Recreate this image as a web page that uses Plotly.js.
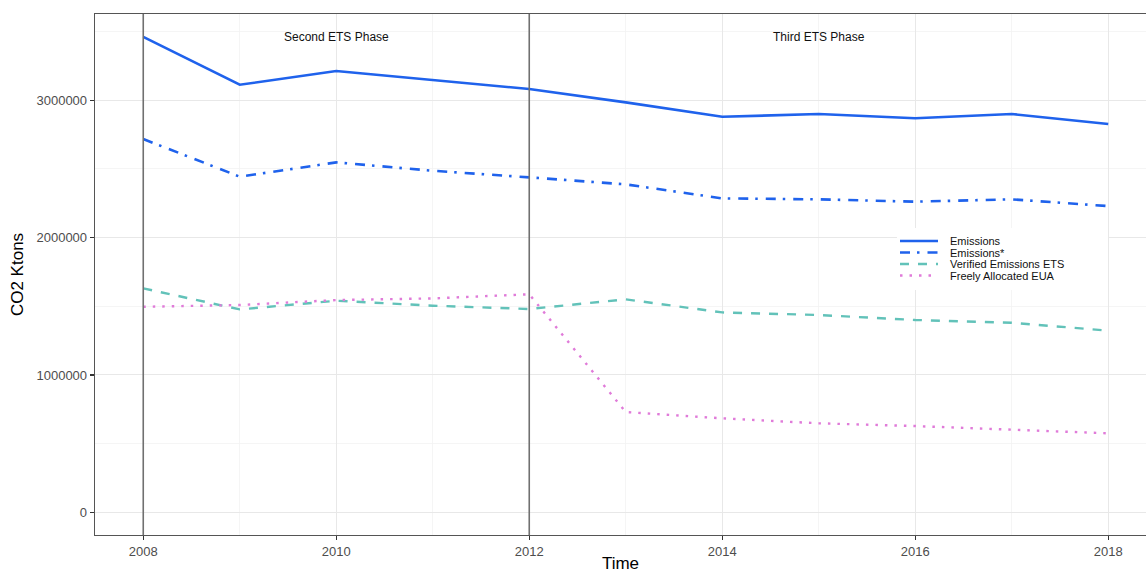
<!DOCTYPE html>
<html>
<head>
<meta charset="utf-8">
<script src="https://cdn.plot.ly/plotly-3.0.1.min.js"></script>
<style>html,body{margin:0;padding:0;background:#fff;}#chart{width:1146px;height:573px;}</style>
</head>
<body>
<div id="chart"></div>
<script>
// ---- data ----
const years = [2008, 2009, 2010, 2011, 2012, 2013, 2014, 2015, 2016, 2017, 2018];
const emissions = [3461000, 3112000, 3212000, 3146000, 3081000, 2984000, 2879000, 2899000, 2868000, 2899000, 2826000];
const emissionsStar = [2717000, 2443000, 2547000, 2486000, 2438000, 2387000, 2285000, 2278000, 2261000, 2278000, 2229000];
const verifiedETS = [1630000, 1477000, 1540000, 1504000, 1480000, 1550000, 1455000, 1436000, 1400000, 1380000, 1322000];
const freelyAllocated = [1496000, 1509000, 1545000, 1557000, 1587000, 730000, 684000, 648000, 628000, 599000, 575000];
const seriesNames = ['Emissions', 'Emissions*', 'Verified Emissions ETS', 'Freely Allocated EUA'];
const phaseStarts = [2008, 2012];
const phaseLabels = ['Second ETS Phase', 'Third ETS Phase'];
const phaseLabelX = [2010, 2015];
const phaseLabelY = 3459000;
const xTicks = [2008, 2010, 2012, 2014, 2016, 2018];
const yTicks = [0, 1000000, 2000000, 3000000];

// ---- styles ----
const seriesValues = [emissions, emissionsStar, verifiedETS, freelyAllocated];
const styles = [
  {color: '#1f62ec', dash: 'solid', width: 2.6},
  {color: '#1f62ec', dash: '10px,7px,2.5px,8px', width: 2.6},
  {color: '#62c2b9', dash: '9px,9px', width: 2.4},
  {color: '#e07bd9', dash: '2.5px,7px', width: 2.4}
];

const traces = seriesValues.map((vals, i) => ({
  type: 'scatter', mode: 'lines', x: years, y: vals, name: seriesNames[i],
  line: {color: styles[i].color, dash: styles[i].dash, width: styles[i].width},
  showlegend: false, hoverinfo: 'x+y+name'
}));

const W = 1146, H = 573;
const mL = 95, mT = 14, mR = 0, mB = 38;
const pw = W - mL - mR, ph = H - mT - mB;
const px = X => (X - mL) / pw;
const py = Y => (H - mB - Y) / ph;

const shapes = [];
phaseStarts.forEach(x0 => shapes.push({
  type: 'line', xref: 'x', yref: 'paper', x0: x0, x1: x0, y0: 0, y1: 1,
  line: {color: '#707070', width: 1.6}, layer: 'above'
}));
// legend box
shapes.push({type: 'rect', xref: 'paper', yref: 'paper', x0: px(897), x1: px(1108), y0: py(290), y1: py(228),
  fillcolor: '#ffffff', line: {width: 0}, layer: 'above'});
const legendRowsY = [241, 252.5, 264, 275.5];
const annotations = [];
seriesNames.forEach((nm, i) => {
  shapes.push({type: 'line', xref: 'paper', yref: 'paper', x0: px(900), x1: px(938),
    y0: py(legendRowsY[i]), y1: py(legendRowsY[i]),
    line: {color: styles[i].color, dash: styles[i].dash, width: styles[i].width}, layer: 'above'});
  annotations.push({xref: 'paper', yref: 'paper', x: px(949), y: py(legendRowsY[i]),
    xanchor: 'left', yanchor: 'middle', showarrow: false, text: nm, borderpad: 0,
    font: {family: 'Liberation Sans, Arial, sans-serif', size: 11, color: '#111'}});
});
phaseLabels.forEach((t, i) => annotations.push({
  xref: 'x', yref: 'y', x: phaseLabelX[i], y: phaseLabelY, text: t, showarrow: false,
  xanchor: 'center', yanchor: 'middle',
  font: {family: 'Liberation Sans, Arial, sans-serif', size: 12, color: '#111'}
}));

const layout = {
  width: W, height: H,
  margin: {l: mL, r: mR, t: mT, b: mB, pad: 0},
  paper_bgcolor: '#ffffff', plot_bgcolor: '#ffffff',
  font: {family: 'Liberation Sans, Arial, sans-serif', color: '#4d4d4d', size: 13},
  showlegend: false,
  xaxis: {
    range: [2007.5, 2007.5 + pw / 96.5],
    tickvals: xTicks, ticktext: xTicks.map(String),
    ticks: 'outside', ticklen: 4, tickwidth: 1.3, tickcolor: '#333',
    showline: true, linecolor: '#555', linewidth: 1.3, mirror: true,
    showgrid: true, gridcolor: '#e8e8e8', gridwidth: 1,
    minor: {dtick: 1, tick0: 2008, showgrid: true, gridcolor: '#f2f2f2', gridwidth: 0.8},
    zeroline: false,
    tickfont: {size: 13, color: '#4d4d4d'},
    title: {text: 'Time', font: {size: 17, color: '#000'}, standoff: 4}
  },
  yaxis: {
    range: [-165000, 3627000],
    tickvals: yTicks, ticktext: yTicks.map(String),
    ticks: 'outside', ticklen: 4, tickwidth: 1.3, tickcolor: '#333',
    showline: true, linecolor: '#555', linewidth: 1.3, mirror: false,
    showgrid: true, gridcolor: '#e8e8e8', gridwidth: 1,
    minor: {dtick: 500000, tick0: 0, showgrid: true, gridcolor: '#f2f2f2', gridwidth: 0.8},
    zeroline: false,
    tickfont: {size: 13, color: '#4d4d4d'},
    title: {text: 'CO2 Ktons', font: {size: 17, color: '#000'}, standoff: 8}
  },
  shapes: shapes,
  annotations: annotations
};

Plotly.newPlot('chart', traces, layout, {displayModeBar: false, staticPlot: true});
</script>
</body>
</html>
